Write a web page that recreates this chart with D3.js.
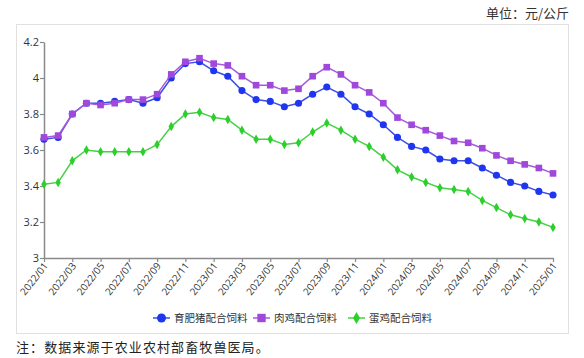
<!DOCTYPE html>
<html><head><meta charset="utf-8">
<script src="https://cdn.jsdelivr.net/npm/d3@7"></script>
<style>
body{margin:0;background:#fff;}
svg{display:block;font-family:"Noto Sans CJK SC","Noto Sans",sans-serif;}
</style></head><body>
<svg id="c" width="584" height="358"></svg>
<script>
const months = [];
for (let y = 2022; y <= 2025; y++) for (let m = 1; m <= 12; m++) { if (y === 2025 && m > 1) break; months.push(y + "/" + String(m).padStart(2, "0")); }
const seriesNames = ["育肥猪配合饲料", "肉鸡配合饲料", "蛋鸡配合饲料"];
const pig = [3.66,3.67,3.80,3.86,3.86,3.87,3.88,3.86,3.89,4.00,4.08,4.09, 4.04,4.01,3.93,3.88,3.87,3.84,3.86,3.91,3.95,3.91,3.84,3.80, 3.74,3.67,3.62,3.60,3.55,3.54,3.54,3.50,3.46,3.42,3.40,3.37, 3.35];
const broiler = [3.67,3.68,3.80,3.86,3.85,3.86,3.88,3.88,3.91,4.02,4.09,4.11, 4.08,4.07,4.01,3.96,3.96,3.93,3.94,4.01,4.06,4.02,3.96,3.92, 3.86,3.78,3.74,3.71,3.68,3.65,3.64,3.61,3.57,3.54,3.52,3.50, 3.47];
const layer = [3.41,3.42,3.54,3.60,3.59,3.59,3.59,3.59,3.63,3.73,3.80,3.81, 3.78,3.77,3.71,3.66,3.66,3.63,3.64,3.70,3.75,3.71,3.66,3.62, 3.56,3.49,3.45,3.42,3.39,3.38,3.37,3.32,3.28,3.24,3.22,3.20, 3.17];
const yTicks = [3, 3.2, 3.4, 3.6, 3.8, 4, 4.2];
const unitText = "单位：元/公斤";
const noteText = "注：数据来源于农业农村部畜牧兽医局。";

const svg = d3.select("#c");
const L = 44, R = 553, T = 42, B = 258;
const x = d3.scalePoint().domain(months).range([L, R]);
const y = d3.scaleLinear().domain([3, 4.2]).range([B, T]);

svg.append("rect").attr("x", 16.5).attr("y", 24.5).attr("width", 552).attr("height", 309)
  .attr("fill", "#fff").attr("stroke", "#e0e0e0");

svg.append("text").attr("x", 569).attr("y", 18).attr("text-anchor", "end")
  .attr("font-size", 13).attr("fill", "#333").text(unitText);
svg.append("text").attr("x", 16).attr("y", 352)
  .attr("font-size", 13).attr("fill", "#222").attr("letter-spacing", 1.1).text(noteText);

const axisColor = "#8a8a8a";
const ya = svg.append("g").attr("transform", `translate(${L},0)`)
  .call(d3.axisLeft(y).tickValues(yTicks).tickSize(4).tickSizeOuter(0).tickFormat(d3.format("~g")));
ya.select(".domain").attr("stroke", axisColor).attr("stroke-width", 1.5);
ya.selectAll(".tick line").attr("stroke", axisColor).attr("stroke-width", 1.2);
ya.selectAll(".tick text").attr("font-size", 11).attr("fill", "#333").attr("x", -5)
  .style("font-family", "'Open Sans','Noto Sans',sans-serif");

const xa = svg.append("g").attr("transform", `translate(0,${B})`)
  .call(d3.axisBottom(x).tickValues(months.filter((d, i) => i % 2 === 0)).tickSize(4).tickSizeOuter(0));
xa.select(".domain").attr("stroke", axisColor).attr("stroke-width", 1.5);
xa.selectAll(".tick line").attr("stroke", axisColor).attr("stroke-width", 1.2);
xa.selectAll(".tick text").attr("font-size", 10).attr("fill", "#333")
  .style("font-family", "'Open Sans','Noto Sans',sans-serif")
  .attr("text-anchor", "end").attr("dy", 0).attr("y", 0)
  .attr("transform", "translate(4,8) rotate(-52)");

const defs = [
  {name: seriesNames[0], data: pig, line: "#3b4fe4", fill: "#1f35f0", sym: d3.symbolCircle, size: 40},
  {name: seriesNames[1], data: broiler, line: "#a65ad8", fill: "#a048dc", sym: d3.symbolSquare, size: 44},
  {name: seriesNames[2], data: layer, line: "#45d145", fill: "#2ccf2c", sym: d3.symbolDiamond, size: 26}
];
const line = d3.line().x((d, i) => x(months[i])).y(d => y(d));
defs.forEach(s => {
  svg.append("path").datum(s.data).attr("d", line).attr("fill", "none")
    .attr("stroke", s.line).attr("stroke-width", 1.5);
  svg.append("g").selectAll("path").data(s.data).join("path")
    .attr("transform", (d, i) => `translate(${x(months[i])},${y(d)})`)
    .attr("d", d3.symbol().type(s.sym).size(s.size)).attr("fill", s.fill);
});

const legX = [153, 253, 348];
const lg = svg.append("g");
defs.forEach((s, i) => {
  const g = lg.append("g").attr("transform", `translate(${legX[i]},318)`);
  g.append("line").attr("x1", 0).attr("x2", 17).attr("stroke", s.line).attr("stroke-width", 1.5);
  g.append("path").attr("transform", "translate(8.5,0)")
    .attr("d", d3.symbol().type(s.sym).size(s.size * 1.6)).attr("fill", s.fill);
  g.append("text").attr("x", 21).attr("y", 4).attr("font-size", 10.5).attr("fill", "#333").text(s.name);
});
</script></body></html>
